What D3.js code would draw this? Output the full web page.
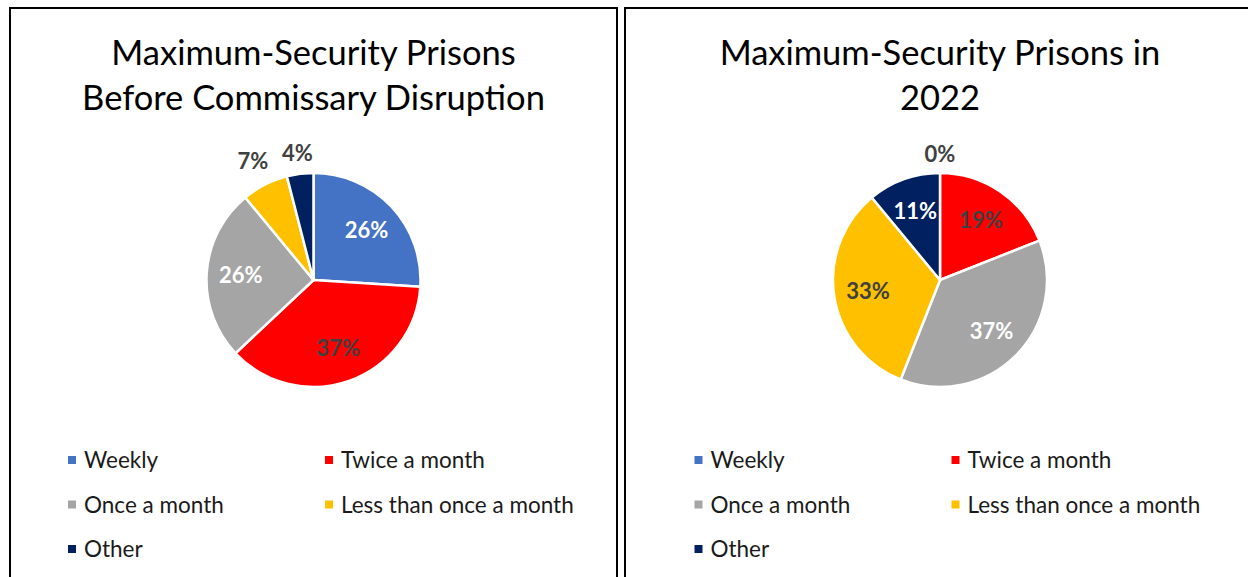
<!DOCTYPE html>
<html lang="en">
<head>
    <meta charset="UTF-8">
    <title>Maximum-Security Prisons</title>
    <style>
        body{
            margin:0px;
            background-color: #ffffff;
            overflow: hidden;
        }
        svg{
            display: block;
        }
        text{
            font-family: Lato, "Open Sans", sans-serif;
        }
    </style>
</head>
<body>
    <svg></svg>

    <script src="https://d3js.org/d3.v7.min.js"></script>
    <script>
        // Data
        const categories = ["Weekly", "Twice a month", "Once a month", "Less than once a month", "Other"];
        const sliceColors = ["#4472C4", "#FF0000", "#A5A5A5", "#FFC000", "#002060"];
        const labelColors = ["#ffffff", "#404040", "#ffffff", "#404040", "#ffffff"];
        const beforeValues = [26, 37, 26, 7, 4];
        const values2022 = [0, 19, 37, 33, 11];
        const titleBefore = ["Maximum-Security Prisons", "Before Commissary Disruption"];
        const title2022 = ["Maximum-Security Prisons in", "2022"];

        const width = 1248, height = 577;
        const svg = d3.select("svg")
            .attr("width", width)
            .attr("height", height);

        const color = d3.scaleOrdinal().domain(categories).range(sliceColors);
        const labelColor = d3.scaleOrdinal().domain(categories).range(labelColors);

        const panels = [
            {x: 10, w: 607, values: beforeValues, title: titleBefore},
            {x: 625, w: 630, values: values2022, title: title2022}
        ];

        const radius = 107;
        const pieY = 280;

        const pie = d3.pie().sort(null).value(d => d.value);
        const arc = d3.arc().innerRadius(0).outerRadius(radius);
        const labelArc = d3.arc().innerRadius(radius * 0.68).outerRadius(radius * 0.68);

        panels.forEach(p => {
            const cx = p.x + p.w / 2;
            const g = svg.append("g");

            // frame
            g.append("rect")
                .attr("x", p.x)
                .attr("y", 8)
                .attr("width", p.w)
                .attr("height", 620)
                .attr("fill", "#fff")
                .attr("stroke", "#000")
                .attr("stroke-width", 2);

            // title
            g.append("text")
                .attr("x", cx)
                .attr("y", 65)
                .attr("text-anchor", "middle")
                .style("font-size", "34.5px")
                .attr("fill", "#000")
                .selectAll("tspan")
                .data(p.title)
                .enter()
                .append("tspan")
                .attr("x", cx)
                .attr("dy", (d, i) => i === 0 ? 0 : 45)
                .text(d => d);

            // pie
            const data = pie(categories.map((c, i) => ({cat: c, value: p.values[i]})));
            const pg = g.append("g").attr("transform", `translate(${cx},${pieY})`);

            pg.selectAll("path")
                .data(data)
                .enter()
                .append("path")
                .attr("d", arc)
                .attr("fill", d => color(d.data.cat))
                .attr("stroke", "#fff")
                .attr("stroke-width", 2.5)
                .attr("stroke-linejoin", "round");

            pg.selectAll("text")
                .data(data)
                .enter()
                .append("text")
                .attr("transform", d => {
                    if (d.data.value > 8) return `translate(${labelArc.centroid(d)})`;
                    const a = (d.startAngle + d.endAngle) / 2;
                    const r = radius + 19 + Math.abs(Math.sin(a)) * 16;
                    return `translate(${Math.sin(a) * r},${-Math.cos(a) * r})`;
                })
                .attr("text-anchor", "middle")
                .attr("dy", "0.36em")
                .style("font-size", "22px")
                .style("font-weight", "bold")
                .attr("fill", d => d.data.value > 8 ? labelColor(d.data.cat) : "#404040")
                .text(d => d.data.value + "%");

            // legend
            const legX = cx - 245.5;
            const legend = g.selectAll(".leg")
                .data(categories)
                .enter()
                .append("g")
                .attr("transform", (d, i) => `translate(${legX + (i % 2) * 257},${460 + Math.floor(i / 2) * 44.5})`);

            legend.append("rect")
                .attr("x", 0)
                .attr("y", -4)
                .attr("width", 8)
                .attr("height", 8)
                .attr("fill", d => color(d));

            legend.append("text")
                .attr("x", 16)
                .attr("dy", "0.36em")
                .style("font-size", "22.5px")
                .attr("fill", "#1a1a1a")
                .text(d => d);
        });
    </script>
</body>
</html>
